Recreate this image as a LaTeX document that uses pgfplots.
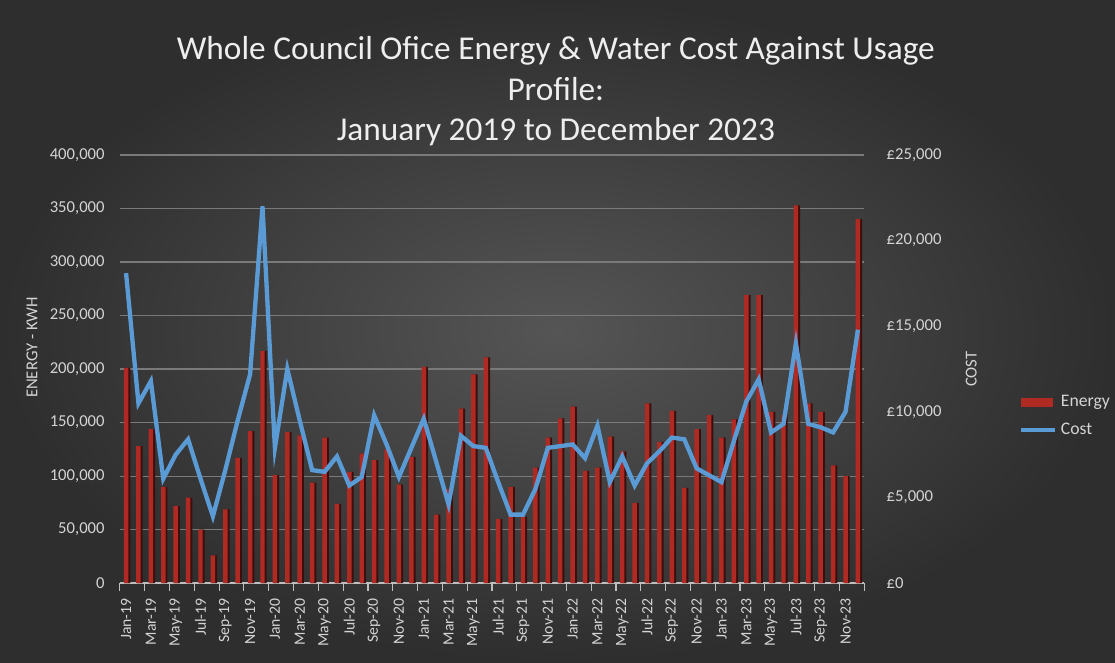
\documentclass[border=0pt]{standalone}
\usepackage{fontspec}
\setmainfont{Carlito}
\usepackage{pgfplots}
\usepackage{pgfplotstable}
\pgfplotsset{compat=1.18}
\definecolor{bgin}{HTML}{555555}
\definecolor{bgout}{HTML}{2E2E2E}
\definecolor{gridc}{HTML}{7A7A7A}
\definecolor{labc}{HTML}{D4D4D4}
\definecolor{titc}{HTML}{EEEEEE}
\definecolor{barc}{HTML}{B02A24}
\definecolor{bardark}{HTML}{3A0F0D}
\definecolor{linec}{HTML}{5B9BD5}
\definecolor{axisc}{HTML}{BFBFBF}

\pgfplotstableread{
m e c
0 201000 18100
1 128000 10500
2 144000 11800
3 90000 6100
4 72000 7500
5 80000 8400
6 50000 6100
7 26000 3900
8 69000 6600
9 117000 9500
10 142000 12200
11 217000 22000
12 101000 7900
13 141000 12500
14 138000 9500
15 94000 6600
16 136000 6500
17 74000 7400
18 104000 5700
19 121000 6200
20 115000 9800
21 125000 8100
22 92000 6200
23 118000 7900
24 202000 9600
25 64000 7100
26 88000 4600
27 163000 8600
28 195000 8000
29 211000 7900
30 60000 5900
31 90000 4000
32 62000 4000
33 108000 5500
34 136000 7900
35 154000 8000
36 165000 8100
37 105000 7300
38 108000 9200
39 137000 5900
40 123000 7400
41 75000 5700
42 168000 7000
43 132000 7700
44 161000 8500
45 89000 8400
46 144000 6700
47 157000 6300
48 136000 5900
49 153000 8300
50 269000 10600
51 269000 11900
52 160000 8800
53 157000 9300
54 353000 14000
55 168000 9300
56 160000 9100
57 110000 8800
58 100000 10000
59 340000 14800
}\data

\begin{document}
\begin{tikzpicture}
\useasboundingbox (0,0) rectangle (20cm,11.89cm);
\shade[inner color=bgin, outer color=bgout] (0,0) rectangle (20cm,11.89cm);

\node[align=center, text=titc, font=\fontsize{17}{20.7}\selectfont] at (9.97cm,10.25cm)
  {Whole Council Ofice Energy \& Water Cost Against Usage\\Profile:\\January 2019 to December 2023};

\begin{axis}[
  at={(2.15cm,1.43cm)}, anchor=south west,
  scale only axis, width=13.35cm, height=7.68cm,
  xmin=-0.5, xmax=59.5, ymin=0, ymax=400000,
  scaled y ticks=false,
  axis x line*=bottom, axis y line*=left,
  y axis line style={draw=none},
  x axis line style={draw=axisc, line width=0.8pt},
  tick align=outside,
  xtick={0,2,...,58},
  xticklabels={Jan-19,Mar-19,May-19,Jul-19,Sep-19,Nov-19,
               Jan-20,Mar-20,May-20,Jul-20,Sep-20,Nov-20,
               Jan-21,Mar-21,May-21,Jul-21,Sep-21,Nov-21,
               Jan-22,Mar-22,May-22,Jul-22,Sep-22,Nov-22,
               Jan-23,Mar-23,May-23,Jul-23,Sep-23,Nov-23},
  x tick label style={rotate=90, anchor=east, font=\fontsize{8}{9}\selectfont, text=labc},
  major x tick style={draw=none},
  minor xtick={-0.5,1.5,...,59.5},
  minor x tick style={draw=axisc, line width=0.6pt},
  minor tick length=4pt,
  ytick={0,50000,...,400000},
  yticklabels={0,{50,000},{100,000},{150,000},{200,000},{250,000},{300,000},{350,000},{400,000}},
  y tick label style={font=\fontsize{8.5}{10}\selectfont, text=labc},
  major y tick style={draw=none},
  ymajorgrids, grid style={draw=gridc, line width=0.6pt},
  ylabel={ENERGY - KWH},
  ylabel style={at={(axis description cs:-0.118,0.55)}, anchor=center, font=\fontsize{8.5}{10}\selectfont, text=labc},
]
\addplot[ybar, bar width=0.42, bar shift=0.13, fill=bardark, draw=none] table[x=m,y=e]{\data};
\addplot[ybar, bar width=0.36, bar shift=0, fill=barc, draw=none] table[x=m,y=e]{\data};
\end{axis}

\begin{axis}[
  at={(2.15cm,1.43cm)}, anchor=south west,
  scale only axis, width=13.35cm, height=7.68cm,
  xmin=-0.5, xmax=59.5, ymin=0, ymax=25000,
  scaled y ticks=false,
  axis x line=none, axis y line*=right,
  y axis line style={draw=none},
  ytick={0,5000,...,25000},
  yticklabels={£0,{£5,000},{£10,000},{£15,000},{£20,000},{£25,000}},
  y tick label style={font=\fontsize{8.5}{10}\selectfont, text=labc, xshift=8pt},
  major y tick style={draw=none},
  ylabel={COST},
  ylabel style={at={(axis description cs:1.144,0.5)}, anchor=center, font=\fontsize{8.5}{10}\selectfont, text=labc},
  legend style={at={(axis description cs:1.2,0.39)}, anchor=west, draw=none, fill=none,
    text=labc, font=\fontsize{9}{11}\selectfont, row sep=3pt},
  legend cell align=left,
]
\addlegendimage{legend image code/.code={\fill[barc] (0cm,-0.07cm) rectangle (0.55cm,0.07cm);}}
\addlegendentry{Energy}
\addplot[color=linec, line width=2.2pt, mark=none] table[x=m,y=c]{\data};
\addlegendentry{Cost}
\end{axis}
\end{tikzpicture}
\end{document}
